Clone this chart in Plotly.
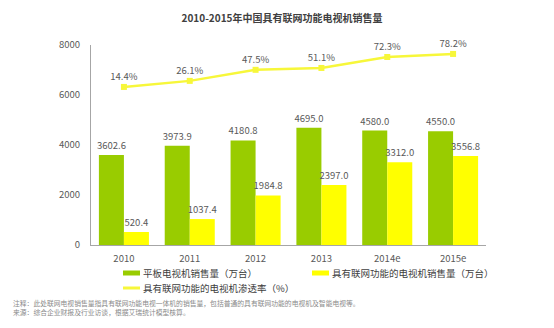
import plotly.graph_objects as go

years = ["2010", "2011", "2012", "2013", "2014e", "2015e"]
flat_tv_sales = [3602.6, 3973.9, 4180.8, 4695.0, 4580.0, 4550.0]
connected_tv_sales = [520.4, 1037.4, 1984.8, 2397.0, 3312.0, 3556.8]
penetration_pct = [14.4, 26.1, 47.5, 51.1, 72.3, 78.2]
y_ticks = [0, 2000, 4000, 6000, 8000]

GREEN = "#99CC00"
YELLOW = "#FFFF00"
LINE_YELLOW = "#F7F73A"
GRAY = "#595959"
FONT = "Noto Sans CJK SC"

# plot area in pixels: x 91..486, y 45..245
PX_L, PX_R, PX_T, PX_B = 91, 486, 45, 245


def px_x(px):
    return (px - PX_L) / (PX_R - PX_L)


def px_y(py):
    return (PX_B - py) / (PX_B - PX_T)


fig = go.Figure()

fig.add_trace(go.Bar(
    x=years, y=flat_tv_sales, name="平板电视机销售量（万台）",
    marker=dict(color=GREEN, line=dict(width=0)),
    text=[f"{v:.1f}" for v in flat_tv_sales], textposition="outside",
    constraintext="none",
    textfont=dict(size=9.5, color=GRAY, family=FONT),
    cliponaxis=False, showlegend=False,
))
fig.add_trace(go.Bar(
    x=years, y=connected_tv_sales, name="具有联网功能的电视机销售量（万台）",
    marker=dict(color=YELLOW, line=dict(width=0)),
    text=[f"{v:.1f}" for v in connected_tv_sales], textposition="outside",
    constraintext="none",
    textfont=dict(size=9.5, color=GRAY, family=FONT),
    cliponaxis=False, showlegend=False,
))
fig.add_trace(go.Scatter(
    x=years, y=penetration_pct, name="具有联网功能的电视机渗透率（%）",
    yaxis="y2", mode="lines+markers+text",
    line=dict(color=LINE_YELLOW, width=2.5),
    marker=dict(color=LINE_YELLOW, symbol="square", size=6),
    text=[f"{v:.1f}%" for v in penetration_pct], textposition="top center",
    textfont=dict(size=9.5, color=GRAY, family=FONT),
    cliponaxis=False, showlegend=False,
))

# Hand-built legend: swatches as shapes, labels as annotations
legend_items = [
    (123, 273, GREEN, 5, "平板电视机销售量（万台）"),
    (312, 273, YELLOW, 5, "具有联网功能的电视机销售量（万台）"),
    (123, 288, LINE_YELLOW, 3, "具有联网功能的电视机渗透率（%）"),
]
shapes = []
annotations = []
for x0, y0, col, h, label in legend_items:
    shapes.append(dict(type="line", xref="paper", yref="paper",
                       x0=px_x(x0), x1=px_x(x0 + 17), y0=px_y(y0), y1=px_y(y0),
                       line=dict(color=col, width=h), layer="above"))
    annotations.append(dict(xref="paper", yref="paper", x=px_x(x0 + 18), y=px_y(y0),
                            text=label, showarrow=False, xanchor="left",
                            yanchor="middle",
                            font=dict(size=9.5, color="#404040", family=FONT)))

footnotes = [
    "注释：此处联网电视销售量指具有联网功能电视一体机的销售量，包括普通的具有联网功能的电视机及智能电视等。",
    "来源：综合企业财报及行业访谈，根据艾瑞统计模型核算。",
]
for i, line in enumerate(footnotes):
    annotations.append(dict(xref="paper", yref="paper", x=px_x(11), y=px_y(303 + i * 9),
                            xanchor="left", yanchor="middle", showarrow=False,
                            text=line, font=dict(size=6.8, color="#8a8a8a", family=FONT)))

fig.update_layout(
    width=554, height=328,
    margin=dict(l=PX_L, r=554 - PX_R, t=PX_T, b=328 - PX_B),
    paper_bgcolor="white", plot_bgcolor="white",
    font=dict(family=FONT, color=GRAY),
    title=dict(text="<b>2010-2015年中国具有联网功能电视机销售量</b>",
               x=0.509, xanchor="center", y=0.945, yanchor="middle",
               font=dict(size=10, color="#404040", family=FONT)),
    barmode="group", bargap=0.24, bargroupgap=0,
    xaxis=dict(showgrid=False, showline=True, linecolor="#a6a6a6", linewidth=1,
               ticks="", ticklabelstandoff=5,
               tickfont=dict(size=9.5, color=GRAY), zeroline=False),
    yaxis=dict(range=[0, 8000], tickvals=y_ticks, showgrid=False,
               showline=True, linecolor="#a6a6a6", linewidth=1, ticks="",
               ticklabelstandoff=8,
               tickfont=dict(size=9.5, color=GRAY), zeroline=False),
    yaxis2=dict(range=[-291.3, 95.5], overlaying="y", side="right",
                visible=False, showgrid=False),
    shapes=shapes,
    annotations=annotations,
)

fig.write_html("out.html")
